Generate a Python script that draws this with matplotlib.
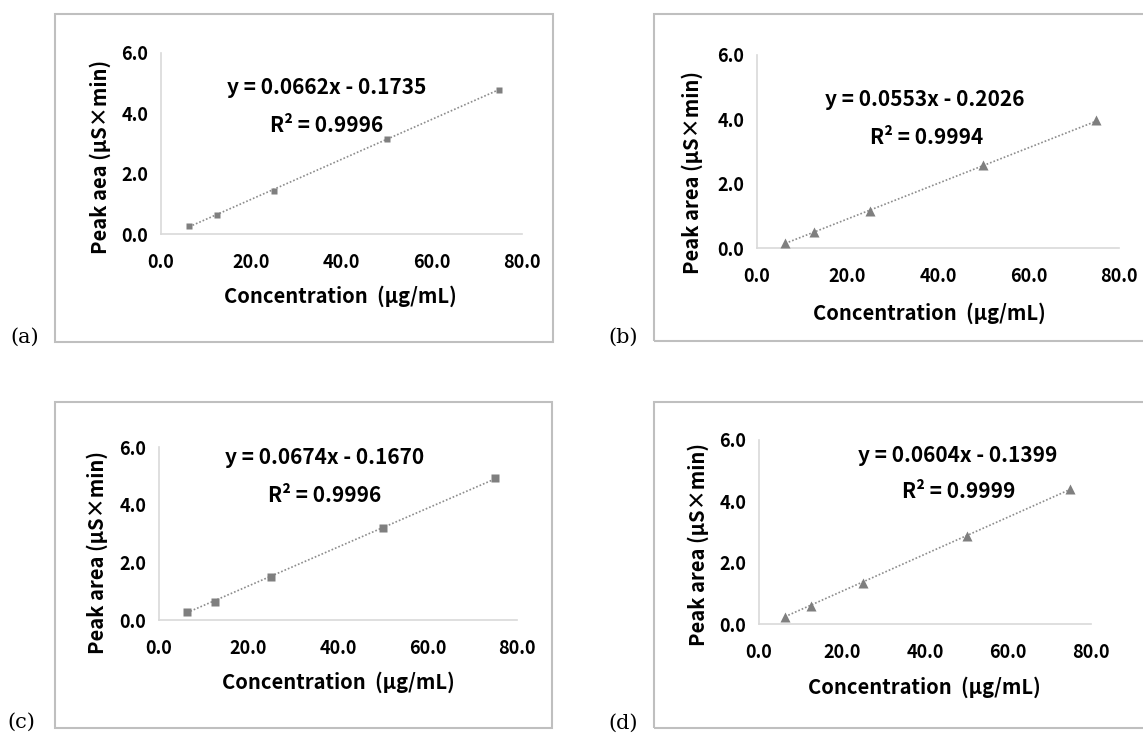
import numpy as np
import matplotlib
matplotlib.use("Agg")
import matplotlib.pyplot as plt
from matplotlib.patches import Rectangle
from matplotlib.ticker import FormatStrFormatter

plt.rcParams['font.family'] = ['Noto Sans CJK KR', 'DejaVu Sans']

# data
conc = [6.25, 12.5, 25.0, 50.0, 75.0]
area_a = [0.27, 0.64, 1.44, 3.15, 4.79]
area_b = [0.17, 0.51, 1.14, 2.57, 3.98]
area_c = [0.29, 0.62, 1.48, 3.19, 4.93]
area_d = [0.24, 0.60, 1.33, 2.87, 4.40]

slopes = [0.0662, 0.0553, 0.0674, 0.0604]
intercepts = [-0.1735, -0.2026, -0.1670, -0.1399]
r2_text = ["0.9996", "0.9994", "0.9996", "0.9999"]
tags = ["(a)", "(b)", "(c)", "(d)"]
ylabels = ["Peak aea (μS×min)", "Peak area (μS×min)",
           "Peak area (μS×min)", "Peak area (μS×min)"]
xlabel = "Concentration  (μg/mL)"
xticks = [0, 20, 40, 60, 80]
yticks = [0, 2, 4, 6]

W, H = 1143, 735
fig = plt.figure(figsize=(W / 100, H / 100), dpi=100)


def fx(px):
    return px / W


def fy(py):
    return 1 - py / H


# layout in pixels: axes box, frame, text centres
layout = [
    dict(ax=(161, 53, 522, 234), box=(55, 14, 553, 342), eq=(327, 88), r2=(327, 126),
         yl=(100, 157), xl=(340, 296), tag=(25, 337), mk='s', ms=5.0),
    dict(ax=(757, 55, 1119, 248), box=(654, 14, 1150, 341), eq=(925, 99), r2=(927, 137),
         yl=(692, 173), xl=(929, 313), tag=(623, 337), mk='^', ms=6.5),
    dict(ax=(159, 447, 517, 620), box=(55, 402, 552, 728), eq=(325, 458), r2=(325, 496),
         yl=(97, 552), xl=(338, 682), tag=(21, 722), mk='s', ms=6.0),
    dict(ax=(759, 440, 1091, 624), box=(654, 402, 1150, 728), eq=(958, 455), r2=(959, 492),
         yl=(698, 545), xl=(924, 687), tag=(623, 723), mk='^', ms=6.5),
]
areas = [area_a, area_b, area_c, area_d]

for i, lay in enumerate(layout):
    # outer chart frame
    x0, y0, x1, y1 = lay['box']
    fig.patches.append(Rectangle((fx(x0), fy(y1)), fx(x1 - x0), (y1 - y0) / H,
                                 transform=fig.transFigure, fill=False,
                                 edgecolor='#bfbfbf', lw=1.5))

    l, t, r, b = lay['ax']
    ax = fig.add_axes([fx(l), fy(b), fx(r - l), (b - t) / H])
    ax.set_xlim(0, 80)
    ax.set_ylim(0, 6)
    ax.set_xticks(xticks)
    ax.set_yticks(yticks)
    ax.xaxis.set_major_formatter(FormatStrFormatter('%.1f'))
    ax.yaxis.set_major_formatter(FormatStrFormatter('%.1f'))
    ax.tick_params(length=0, labelsize=13)
    ax.tick_params(axis='x', pad=14)
    ax.tick_params(axis='y', pad=9)
    for lab in ax.get_xticklabels() + ax.get_yticklabels():
        lab.set_fontweight('bold')
    for s in ['top', 'right']:
        ax.spines[s].set_visible(False)
    for s in ['left', 'bottom']:
        ax.spines[s].set_color('#d9d9d9')
        ax.spines[s].set_linewidth(1.2)
    ax.patch.set_alpha(0)

    # trendline over data range
    xs = np.array([min(conc), max(conc)])
    ax.plot(xs, slopes[i] * xs + intercepts[i], color='#8c8c8c',
            lw=1.2, ls=(0, (1, 1.2)), zorder=2)
    ax.plot(conc, areas[i], lay['mk'], color='#7f7f7f', ms=lay['ms'],
            mec='none', zorder=3, clip_on=False)

    eq = f"y = {slopes[i]:.4f}x - {abs(intercepts[i]):.4f}"
    fig.text(fx(lay['eq'][0]), fy(lay['eq'][1]), eq, ha='center', va='center',
             fontsize=15, fontweight='bold')
    fig.text(fx(lay['r2'][0]), fy(lay['r2'][1]), f"R² = {r2_text[i]}",
             ha='center', va='center', fontsize=15, fontweight='bold')
    fig.text(fx(lay['yl'][0]), fy(lay['yl'][1]), ylabels[i], rotation=90,
             ha='center', va='center', fontsize=14.5, fontweight='bold')
    fig.text(fx(lay['xl'][0]), fy(lay['xl'][1]), xlabel,
             ha='center', va='center', fontsize=14.5, fontweight='bold')
    fig.text(fx(lay['tag'][0]), fy(lay['tag'][1]), tags[i], ha='center',
             va='center', fontsize=15, family=['DejaVu Serif'])

fig.savefig("out.png", dpi=100, facecolor='white')
